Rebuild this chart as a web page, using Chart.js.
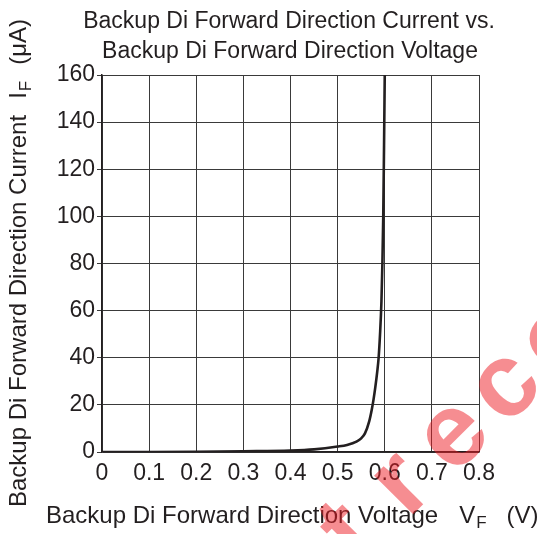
<!DOCTYPE html>
<html>
<head>
<meta charset="utf-8">
<script src="https://cdn.jsdelivr.net/npm/chart.js@4/dist/chart.umd.min.js"></script>
<style>
  html, body { margin: 0; padding: 0; background: #fff; }
  #chart { display: block; }
</style>
</head>
<body>
<canvas id="chart" width="537" height="534"></canvas>
<script>
// forward voltage (V) and forward current (uA)
const voltage = [0, 0.1, 0.2, 0.3, 0.4, 0.45, 0.5, 0.52, 0.54, 0.55, 0.558, 0.567, 0.572, 0.576, 0.58, 0.584, 0.587, 0.59, 0.593, 0.595, 0.5968, 0.5985, 0.6];
const current = [0, 0.02, 0.1, 0.3, 0.6, 1.1, 2.3, 3.0, 4.4, 5.8, 7.9, 13, 17.5, 22, 27.5, 34, 40, 50, 64, 80, 100, 130, 160];

const xTicks = [0, 0.1, 0.2, 0.3, 0.4, 0.5, 0.6, 0.7, 0.8];
const yTicks = [0, 20, 40, 60, 80, 100, 120, 140, 160];

const titleLines = ['Backup Di Forward Direction Current vs.', 'Backup Di Forward Direction Voltage'];
const xTitle = ['Backup Di Forward Direction Voltage', 'V', 'F', '(V)'];
const yTitle = ['Backup Di Forward Direction Current', 'I', 'F', '(\u03bcA)'];

const ink = '#231f20';
const fontFamily = '"Liberation Sans", Arial, sans-serif';

// draws "main  S_sub  (unit)" starting at 0,0 along the current x direction
function drawAxisTitle(ctx, parts, gap1, gap2) {
  ctx.textAlign = 'left';
  ctx.textBaseline = 'alphabetic';
  ctx.font = '24px ' + fontFamily;
  let x = 0;
  ctx.fillText(parts[0], x, 0);
  x += ctx.measureText(parts[0]).width + gap1;
  ctx.fillText(parts[1], x, 0);
  x += ctx.measureText(parts[1]).width + 1;
  ctx.font = '17px ' + fontFamily;
  ctx.fillText(parts[2], x, 5);
  x += ctx.measureText(parts[2]).width + gap2;
  ctx.font = '24px ' + fontFamily;
  ctx.fillText(parts[3], x, 0);
}

const textPlugin = {
  id: 'texts',
  afterDraw(chart) {
    const ctx = chart.ctx;
    ctx.save();
    ctx.fillStyle = ink;
    ctx.font = '23px ' + fontFamily;
    ctx.textAlign = 'center';
    ctx.textBaseline = 'alphabetic';
    ctx.fillText(titleLines[0], 289, 28);
    ctx.fillText(titleLines[1], 290, 58);

    // x axis title
    ctx.save();
    ctx.translate(46, 523);
    drawAxisTitle(ctx, xTitle, 21, 20);
    ctx.restore();

    // y axis title, rotated
    ctx.save();
    ctx.translate(26, 507);
    ctx.rotate(-Math.PI / 2);
    drawAxisTitle(ctx, yTitle, 16, 16);
    ctx.restore();

    // watermark overlay
    ctx.fillStyle = 'rgba(237, 28, 36, 0.5)';
    ctx.font = 'bold 104px ' + fontFamily;
    ctx.textAlign = 'center';
    ctx.textBaseline = 'middle';
    const marks = ['t', 'r', 'e', 'c', 'o'];
    const ang = -45 * Math.PI / 180;
    marks.forEach((ch, i) => {
      ctx.save();
      ctx.translate(350 + i * 52, 534 - i * 49);
      ctx.rotate(ang);
      ctx.fillText(ch, 0, 0);
      ctx.restore();
    });
    ctx.restore();
  }
};

const points = voltage.map((v, i) => ({ x: v, y: current[i] }));

new Chart(document.getElementById('chart'), {
  type: 'line',
  data: {
    datasets: [{
      data: points,
      borderColor: ink,
      borderWidth: 2.6,
      pointRadius: 0,
      fill: false,
      cubicInterpolationMode: 'monotone'
    }]
  },
  options: {
    responsive: false,
    animation: false,
    devicePixelRatio: 1,
    layout: { padding: { top: 75, right: 58, bottom: 0, left: 0 } },
    plugins: {
      legend: { display: false },
      title: { display: false },
      tooltip: { enabled: false }
    },
    scales: {
      x: {
        type: 'linear',
        min: 0,
        max: 0.8,
        afterFit: s => { s.height = 82; },
        afterBuildTicks: s => { s.ticks = xTicks.map(v => ({ value: v })); },
        ticks: {
          color: ink,
          font: { family: fontFamily, size: 23 },
          padding: 8,
          maxRotation: 0,
          callback: v => String(Math.round(v * 10) / 10)
        },
        grid: { color: '#3a3a3a', lineWidth: 1, drawTicks: false },
        border: { color: ink, width: 1.5 }
      },
      y: {
        type: 'linear',
        min: 0,
        max: 160,
        afterFit: s => { s.width = 102; },
        afterBuildTicks: s => { s.ticks = yTicks.map(v => ({ value: v })); },
        ticks: {
          color: ink,
          font: { family: fontFamily, size: 23 },
          padding: 2
        },
        grid: { color: '#3a3a3a', lineWidth: 1, tickLength: 5 },
        border: { color: ink, width: 1.5 }
      }
    }
  },
  plugins: [textPlugin]
});
</script>
</body>
</html>
